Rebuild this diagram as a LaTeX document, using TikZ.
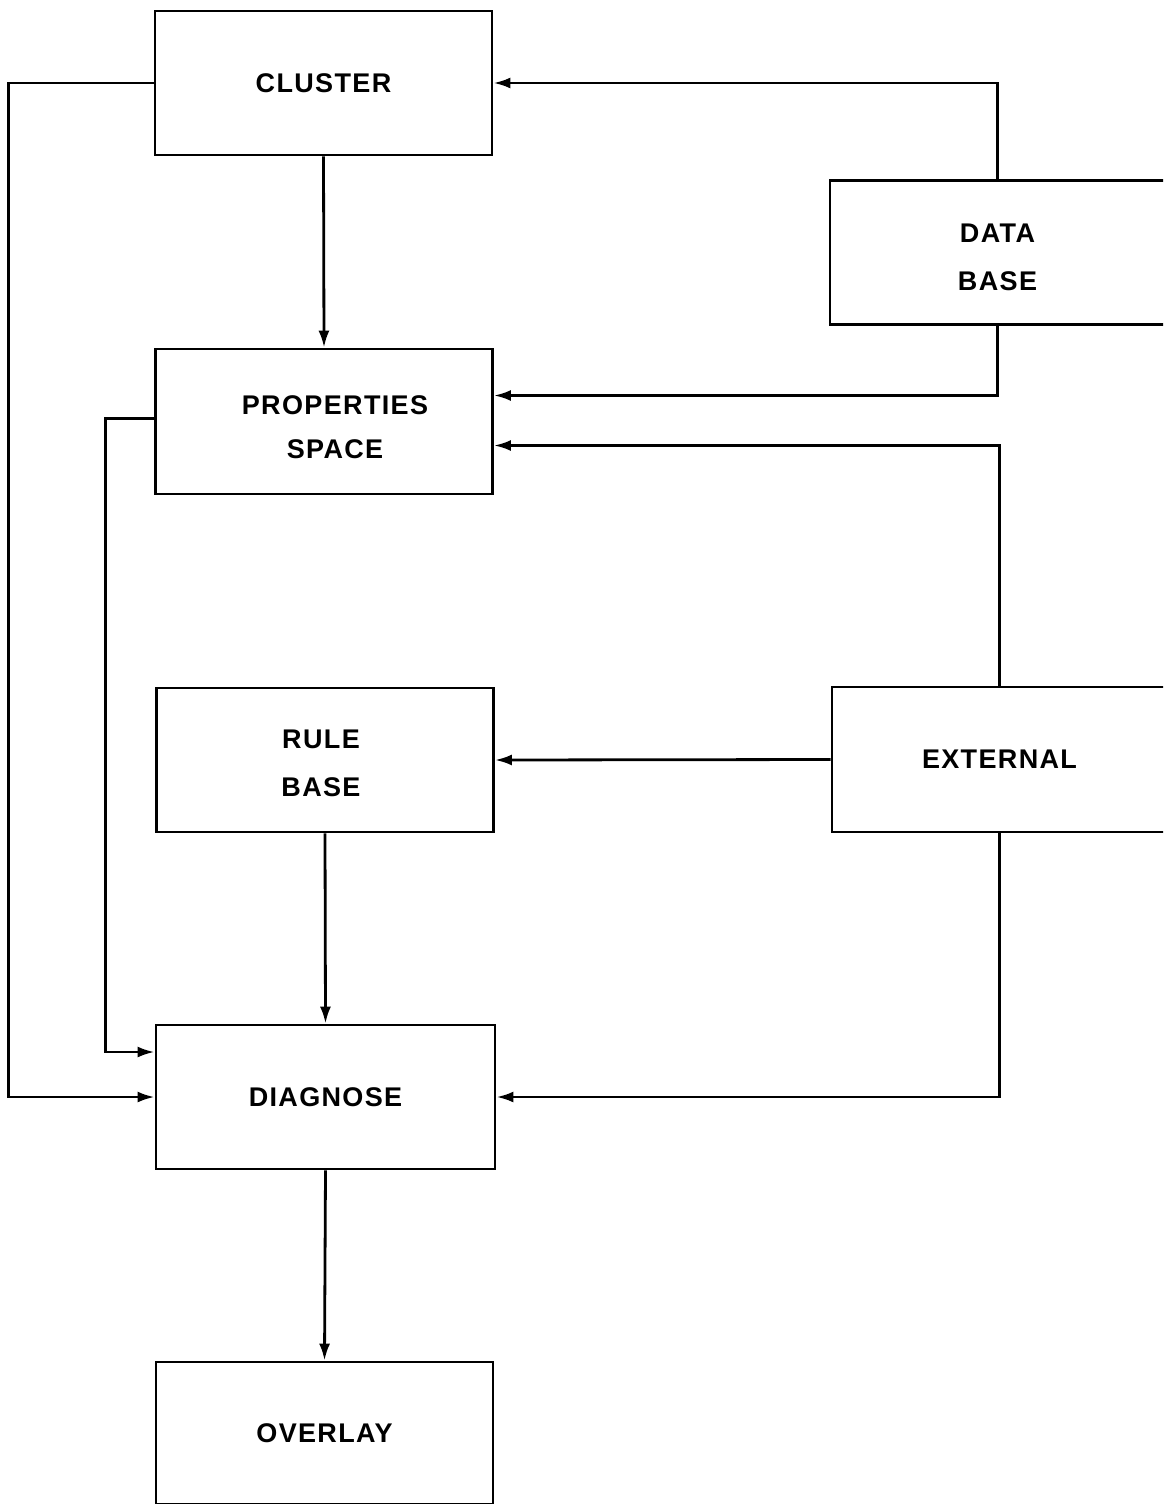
\documentclass[tikz,border=0pt]{standalone}
\usepackage{fontspec}
\setmainfont{Liberation Sans}[LetterSpace=5]
\usetikzlibrary{arrows.meta,calc}
\begin{document}
\begin{tikzpicture}[x=1pt,y=-1pt,
  blk/.style={draw,line width=2.8pt,rectangle,minimum width=337pt,minimum height=144pt,
    align=center,inner sep=0pt,font=\fontsize{27}{48}\selectfont\bfseries},
  inner/.style={align=center,inner sep=0pt,font=\fontsize{27}{48}\selectfont\bfseries},
  arr/.style={line width=2.8pt,-{Latex[length=17pt,width=11pt]}}]
\useasboundingbox (0,0) rectangle (1163,1504);
\clip (0,0) rectangle (1163,1504);
\node[blk] (cluster) at (323.5,83) {CLUSTER};
\node[blk,minimum width=335pt,label={[inner,yshift=-5pt]center:DATA\\BASE}] (database) at (997.5,252.5) {};
\node[blk,minimum height=145pt,label={[inner,xshift=11pt,yshift=-6pt,font=\fontsize{27}{44}\selectfont\bfseries]center:PROPERTIES\\SPACE}] (props) at (324,421.5) {};
\node[blk,label={[inner,xshift=-4pt,yshift=-3pt]center:RULE\\BASE}] (rulebase) at (325,760) {};
\node[blk,minimum width=335pt,minimum height=145pt] (external) at (999.5,759.5) {EXTERNAL};
\node[blk,minimum width=339pt] (diagnose) at (325.5,1097) {DIAGNOSE};
\node[blk,minimum height=142pt] (overlay) at (324.5,1433) {OVERLAY};

\draw[arr] (cluster.west) -- ++(-145,0) |- (diagnose.west);
\draw[arr] (cluster.south) -- (props.north);
\draw[arr] (database.north) |- (cluster.east);
\draw[arr] (database.south) |- ($(props.east)+(0,-26)$);
\draw[arr] (external.north) |- ($(props.east)+(0,24)$);
\draw[arr] ($(props.west)+(0,-3)$) -- ++(-49,0) |- ($(diagnose.west)+(0,-45)$);
\draw[arr] (external.west) -- (rulebase.east);
\draw[arr] (rulebase.south) -- (diagnose.north);
\draw[arr] (external.south) |- (diagnose.east);
\draw[arr] (diagnose.south) -- (overlay.north);
\end{tikzpicture}
\end{document}
